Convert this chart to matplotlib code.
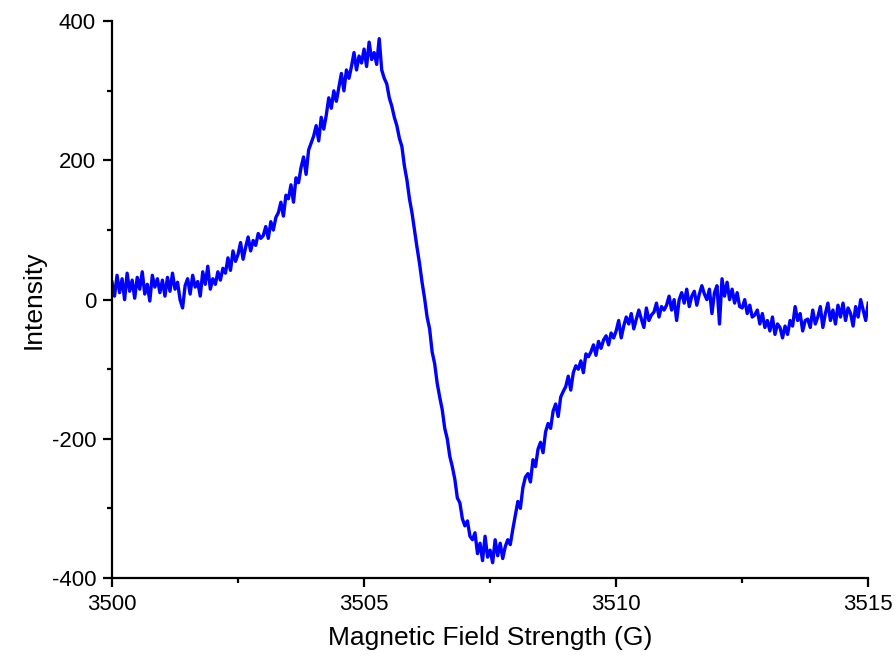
import numpy as np
import matplotlib
matplotlib.use("Agg")
import matplotlib.pyplot as plt
from matplotlib.ticker import MultipleLocator

# field axis, 0.05 G steps from 3500 to 3515
field = np.round(3500 + 0.05 * np.arange(301), 2)

# intensity, one row per gauss
intensity = [
    25, 5, 35, 10, 30, 0, 38, 12, 28, 2, 32, 15, 40, 8, 22, -2, 35, 18, 30, 10,
    28, 5, 32, 12, 38, 15, 25, 0, -12, 20, 30, 8, 35, 18, 26, 5, 40, 22, 48, 15,
    30, 22, 40, 28, 45, 38, 60, 42, 70, 55, 65, 82, 58, 75, 90, 70, 85, 78, 95, 88,
    92, 105, 88, 112, 100, 118, 125, 140, 120, 150, 145, 165, 140, 175, 168, 190, 205, 180, 215, 225,
    235, 250, 228, 262, 245, 265, 290, 275, 300, 285, 305, 325, 300, 330, 318, 335, 355, 330, 350, 340,
    360, 335, 370, 345, 355, 338, 375, 330, 318, 310, 290, 278, 262, 250, 232, 220, 192, 172, 145, 125,
    100, 75, 52, 25, 2, -25, -42, -75, -92, -120, -140, -158, -185, -200, -225, -240, -258, -285, -292, -315,
    -325, -318, -340, -345, -335, -365, -350, -375, -340, -370, -360, -378, -345, -368, -350, -372, -355, -345, -352, -330,
    -310, -290, -300, -270, -255, -250, -262, -230, -240, -215, -205, -220, -190, -178, -185, -160, -150, -168, -140, -132,
    -125, -110, -130, -105, -95, -100, -88, -105, -78, -82, -75, -65, -80, -60, -70, -58, -52, -65, -48, -55,
    -45, -30, -55, -38, -25, -35, -20, -42, -28, -15, -28, -40, -12, -30, -22, -18, -5, -25, -10, -15,
    -8, 5, -15, 0, -30, 0, 10, -5, 15, -10, 5, 12, -8, 8, 20, 8, 0, 15, -20, 10,
    20, -35, 30, 5, 25, 0, 15, -5, 10, -10, -12, 0, -20, -8, -25, -22, -15, -35, -20, -40,
    -30, -45, -25, -50, -35, -40, -55, -38, -50, -30, -38, -10, -30, -20, -45, -30, -28, -40, -15, -35,
    -25, -10, -40, -20, -5, -30, -15, -35, -8, -25, -5, -30, -12, -20, -38, -10, -25, 0, -15, -30,
    -5,
]

plt.rcParams['font.family'] = ['Liberation Sans', 'DejaVu Sans']
plt.rcParams['axes.unicode_minus'] = False

fig = plt.figure(figsize=(8.96, 6.64), dpi=100)
ax = fig.add_axes([0.125, 0.1295, 0.844, 0.8385])

ax.plot(field, intensity, color='#0000ff', linewidth=2.4)

ax.set_xlim(3500, 3515)
ax.set_ylim(-400, 400)
ax.xaxis.set_major_locator(MultipleLocator(5))
ax.xaxis.set_minor_locator(MultipleLocator(2.5))
ax.yaxis.set_major_locator(MultipleLocator(200))
ax.yaxis.set_minor_locator(MultipleLocator(100))

for side in ['top', 'right']:
    ax.spines[side].set_visible(False)
for side in ['left', 'bottom']:
    ax.spines[side].set_linewidth(1.6)

ax.tick_params(which='major', direction='out', length=6.5, width=1.6, labelsize=16, pad=5)
ax.tick_params(which='minor', direction='out', length=3.6, width=1.6)

ax.set_xlabel('Magnetic Field Strength (G)', fontsize=19, labelpad=8)
ax.set_ylabel('Intensity', fontsize=19, labelpad=4)

fig.savefig('out.png', dpi=100)
